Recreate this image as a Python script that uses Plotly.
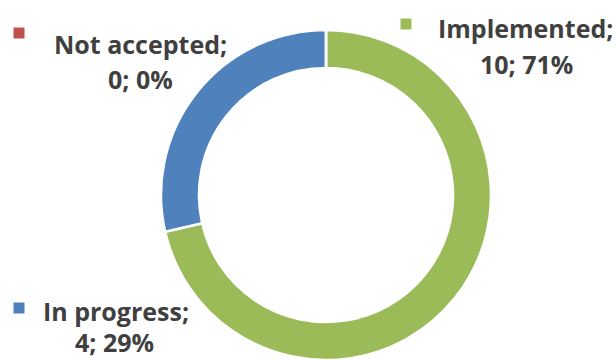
import plotly.graph_objects as go

categories = ["Implemented", "In progress", "Not accepted"]
values = [10, 4, 0]
colors = ["#9BBB59", "#4F81BD", "#C0504D"]

W, H = 616, 360
total = sum(values)

fig = go.Figure(go.Pie(
    labels=categories, values=values, sort=False, direction="clockwise",
    rotation=0, hole=0.77, textinfo="none", hoverinfo="label+value+percent",
    marker=dict(colors=colors, line=dict(color="white", width=2.5)),
    domain=dict(x=[(326 - 165) / W, (326 + 165) / W], y=[0, 330 / H]),
    showlegend=False,
))

# label positions (px from top-left): line1 centre, line2 centre, square centre
label_pos = {
    "Implemented": ((525, 28), (526, 64), (406, 24)),
    "In progress": ((116, 311), (114, 342), (19, 308)),
    "Not accepted": ((140, 44), (140, 79), (19, 33)),
}

font = dict(family="Open Sans", size=25, color="#404040")
annotations = []
shapes = []
for cat, val, col in zip(categories, values, colors):
    pct = round(100 * val / total)
    (x1, y1), (x2, y2), (sx, sy) = label_pos[cat]
    annotations.append(dict(x=x1 / W, y=1 - y1 / H, xref="paper", yref="paper",
                            text=f"<b>{cat};</b>", showarrow=False, font=font,
                            xanchor="center", yanchor="middle"))
    annotations.append(dict(x=x2 / W, y=1 - y2 / H, xref="paper", yref="paper",
                            text=f"<b>{val}; {pct}%</b>", showarrow=False, font=font,
                            xanchor="center", yanchor="middle"))
    shapes.append(dict(type="rect", xref="paper", yref="paper",
                       x0=(sx - 5.5) / W, x1=(sx + 5.5) / W,
                       y0=1 - (sy + 5.5) / H, y1=1 - (sy - 5.5) / H,
                       fillcolor=col, line=dict(width=0)))

fig.update_layout(
    width=W, height=H, margin=dict(l=0, r=0, t=0, b=0),
    paper_bgcolor="white", plot_bgcolor="white",
    annotations=annotations, shapes=shapes,
)

fig.write_html("out.html")
